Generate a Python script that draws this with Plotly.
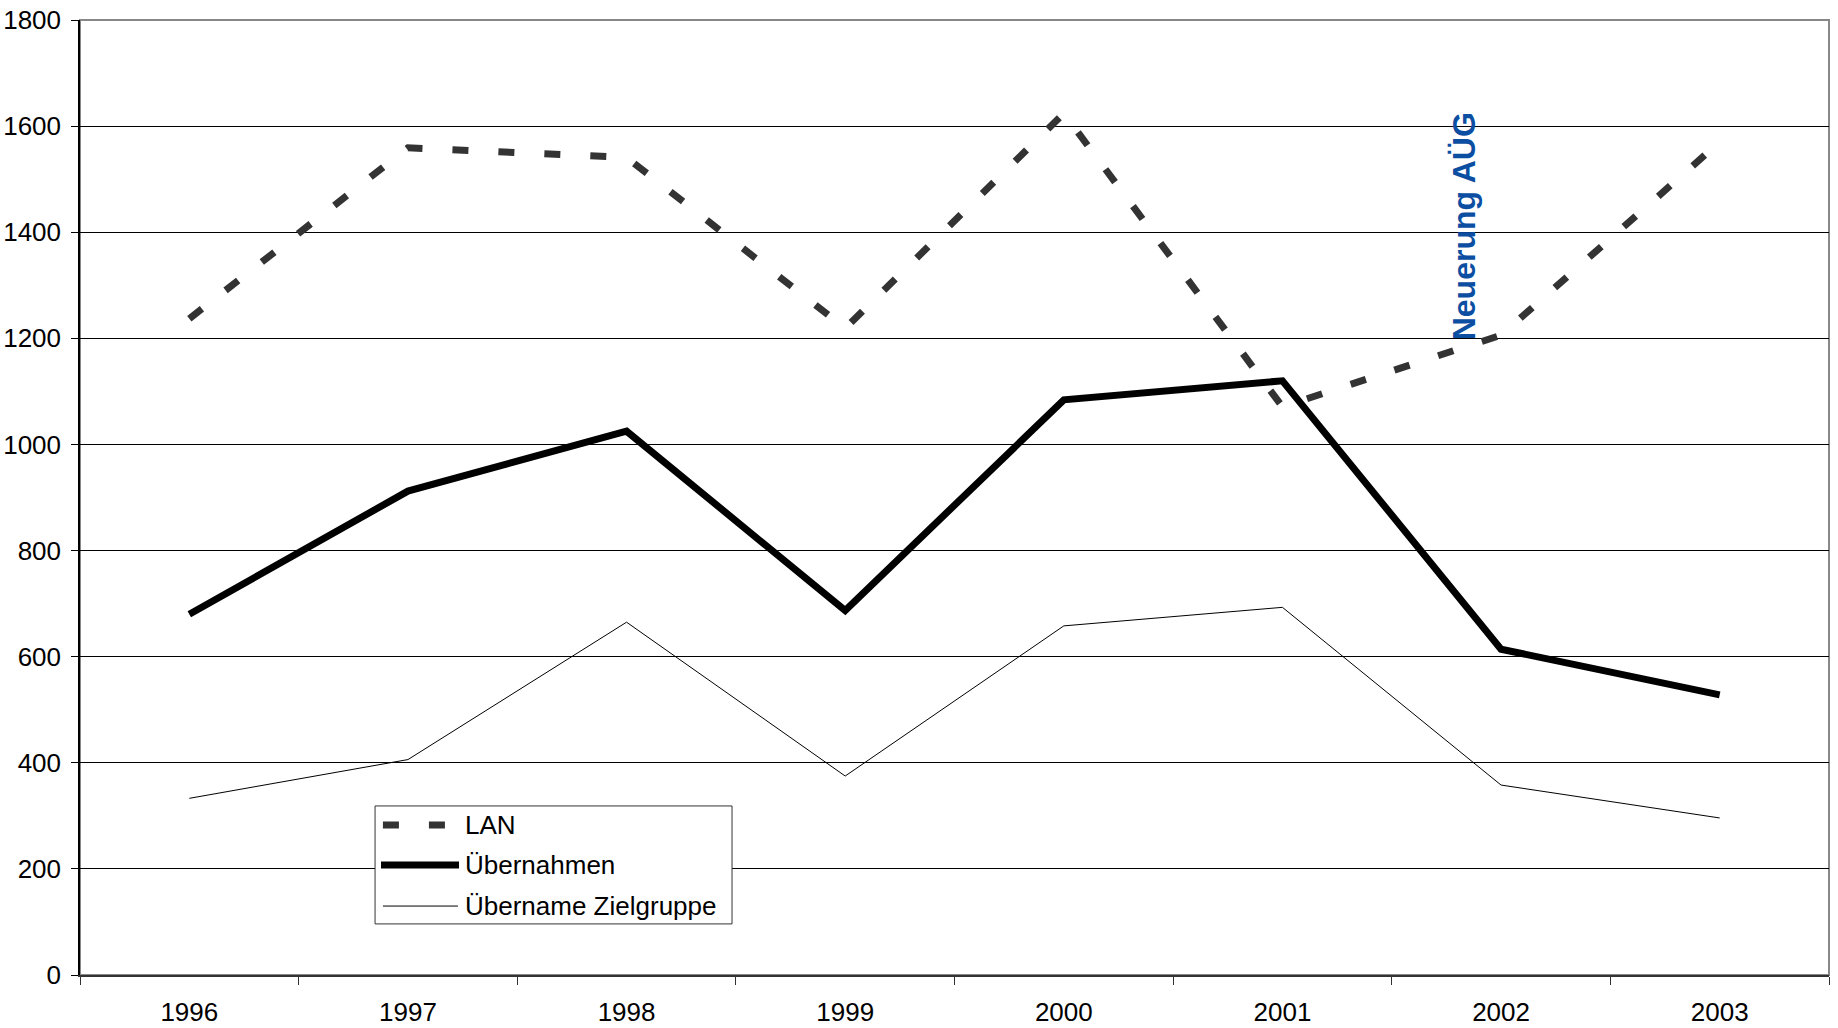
import plotly.graph_objects as go

years = ["1996", "1997", "1998", "1999", "2000", "2001", "2002", "2003"]
lan = [1237, 1559, 1541, 1219, 1624, 1071, 1206, 1570]
uebernahmen = [680, 912, 1025, 687, 1084, 1120, 614, 528]
zielgruppe = [333, 406, 665, 375, 658, 693, 358, 296]
y_ticks = [0, 200, 400, 600, 800, 1000, 1200, 1400, 1600, 1800]
series_names = ["LAN", "Übernahmen", "Übername Zielgruppe"]

FONT = "Liberation Sans, Arial, sans-serif"
styles = [
    dict(color="#333333", width=7, dash="16px,30px"),
    dict(color="#000000", width=7),
    dict(color="#000000", width=1),
]

fig = go.Figure()
for name, vals, st in zip(series_names, [lan, uebernahmen, zielgruppe], styles):
    fig.add_trace(go.Scatter(x=years, y=vals, mode="lines", name=name, line=st,
                             showlegend=False))

# plot-area border (top/right grey)
fig.add_shape(type="rect", xref="paper", yref="paper", x0=0, x1=1, y0=0, y1=1,
              line=dict(color="#888888", width=2), layer="below")

# legend box drawn manually (to match the long symbol samples)
fig.add_shape(type="rect", xref="paper", yref="paper", x0=0.1687, x1=0.3728,
              y0=0.0535, y1=0.1770, line=dict(color="#333333", width=1),
              fillcolor="white", layer="above")
row_y = [0.1570, 0.1152, 0.0722]
sym_x = [(0.1732, 0.2087), (0.1721, 0.2167), (0.1732, 0.2161)]
for name, st, yy, (xa, xb) in zip(series_names, styles, row_y, sym_x):
    fig.add_shape(type="line", xref="paper", yref="paper", x0=xa, x1=xb, y0=yy, y1=yy,
                  line=st, layer="above")
    fig.add_annotation(xref="paper", yref="paper", x=0.2190, y=yy, text=name,
                       showarrow=False, xanchor="left", yanchor="middle",
                       font=dict(family=FONT, size=26, color="black"))

fig.add_annotation(x=5.83, y=1411, xref="x", yref="y", text="<b>Neuerung AÜG</b>",
                   textangle=-90, showarrow=False,
                   font=dict(family=FONT, size=32, color="#0B4EA2"))

fig.update_layout(
    width=1838, height=1028,
    margin=dict(l=80, r=9, t=20, b=53, autoexpand=False),
    paper_bgcolor="white", plot_bgcolor="white",
    font=dict(family=FONT, size=26, color="black"),
    showlegend=False,
    xaxis=dict(type="category", range=[-0.5, 7.5], showgrid=False,
               showline=True, linecolor="#333333", linewidth=2,
               ticks="outside", tickson="boundaries", ticklen=8, tickcolor="#333333",
               tickfont=dict(size=26), zeroline=False, automargin=False,
               ticklabelstandoff=13),
    yaxis=dict(range=[0, 1800], tickvals=y_ticks, showgrid=True, gridcolor="#000000",
               gridwidth=1, showline=True, linecolor="#000000", linewidth=1.5,
               ticks="outside", ticklen=7, tickcolor="#000000",
               tickfont=dict(size=26), zeroline=False, automargin=False,
               ticklabelstandoff=5),
)

fig.write_html("out.html", config={"displayModeBar": False},
               post_script="document.body.style.margin='0';")
